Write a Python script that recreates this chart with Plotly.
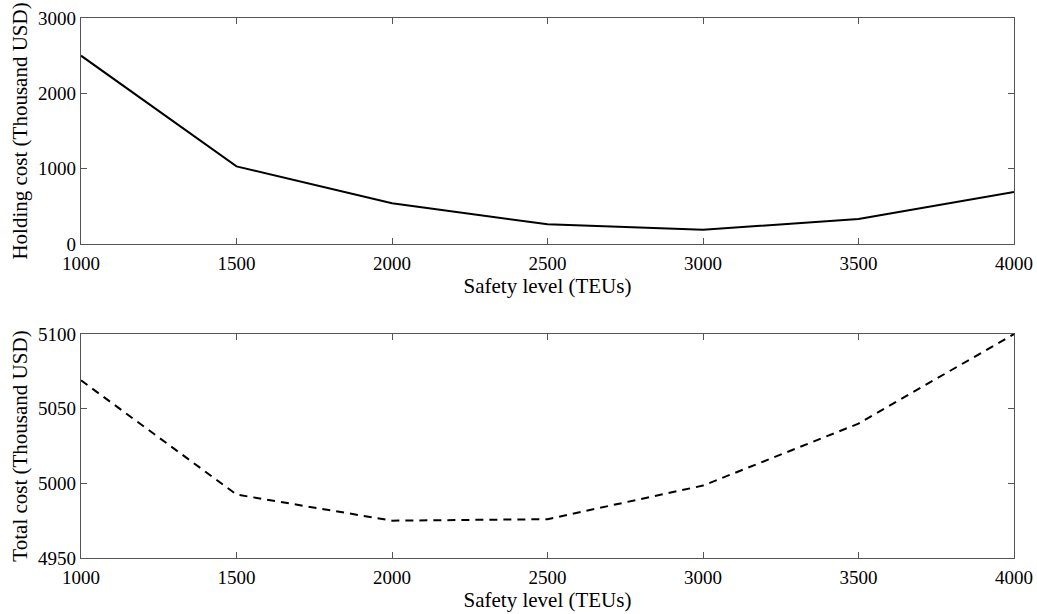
import plotly.graph_objects as go
from plotly.subplots import make_subplots

safety_level = [1000, 1500, 2000, 2500, 3000, 3500, 4000]
holding_cost = [2500, 1030, 540, 262, 188, 332, 690]
total_cost = [5069, 4992.5, 4975, 4976, 4998.5, 5040, 5100]

x_ticks = [1000, 1500, 2000, 2500, 3000, 3500, 4000]

fig = make_subplots(rows=2, cols=1)
fig.add_trace(go.Scatter(x=safety_level, y=holding_cost, mode="lines",
                         line=dict(color="black", width=2), showlegend=False,
                         cliponaxis=False), row=1, col=1)
fig.add_trace(go.Scatter(x=safety_level, y=total_cost, mode="lines",
                         line=dict(color="black", width=2, dash="8px,6px"),
                         showlegend=False, cliponaxis=False), row=2, col=1)

tick_font = dict(family="Liberation Serif, Times New Roman, serif", size=19, color="black")
title_font = dict(family="Liberation Serif, Times New Roman, serif", size=21, color="black")
axis_common = dict(showline=True, linecolor="#555555", linewidth=1.3, mirror="ticks",
                   ticks="inside", ticklen=6, tickcolor="#555555", tickwidth=1.3,
                   showgrid=False, zeroline=False, tickfont=tick_font, automargin=False)

fig.update_xaxes(range=[1000, 4000], tickvals=x_ticks, **axis_common,
                 ticklabelstandoff=2,
                 title=dict(text="Safety level (TEUs)", font=title_font, standoff=0))
fig.update_xaxes(domain=[0, 1])
fig.update_yaxes(**axis_common)
fig.update_yaxes(range=[0, 3000], tickvals=[0, 1000, 2000, 3000],
                 domain=[0.5815, 1.0],
                 title=dict(text="Holding cost (Thousand USD)", font=title_font, standoff=4),
                 row=1, col=1)
fig.update_yaxes(range=[4950, 5100], tickvals=[4950, 5000, 5050, 5100],
                 domain=[0.0, 0.4148],
                 title=dict(text="Total cost (Thousand USD)", font=title_font, standoff=4),
                 row=2, col=1)

fig.update_layout(width=1037, height=614, margin=dict(l=81, r=23, t=18, b=56),
                  plot_bgcolor="white", paper_bgcolor="white", font=tick_font)

fig.write_html("out.html")
